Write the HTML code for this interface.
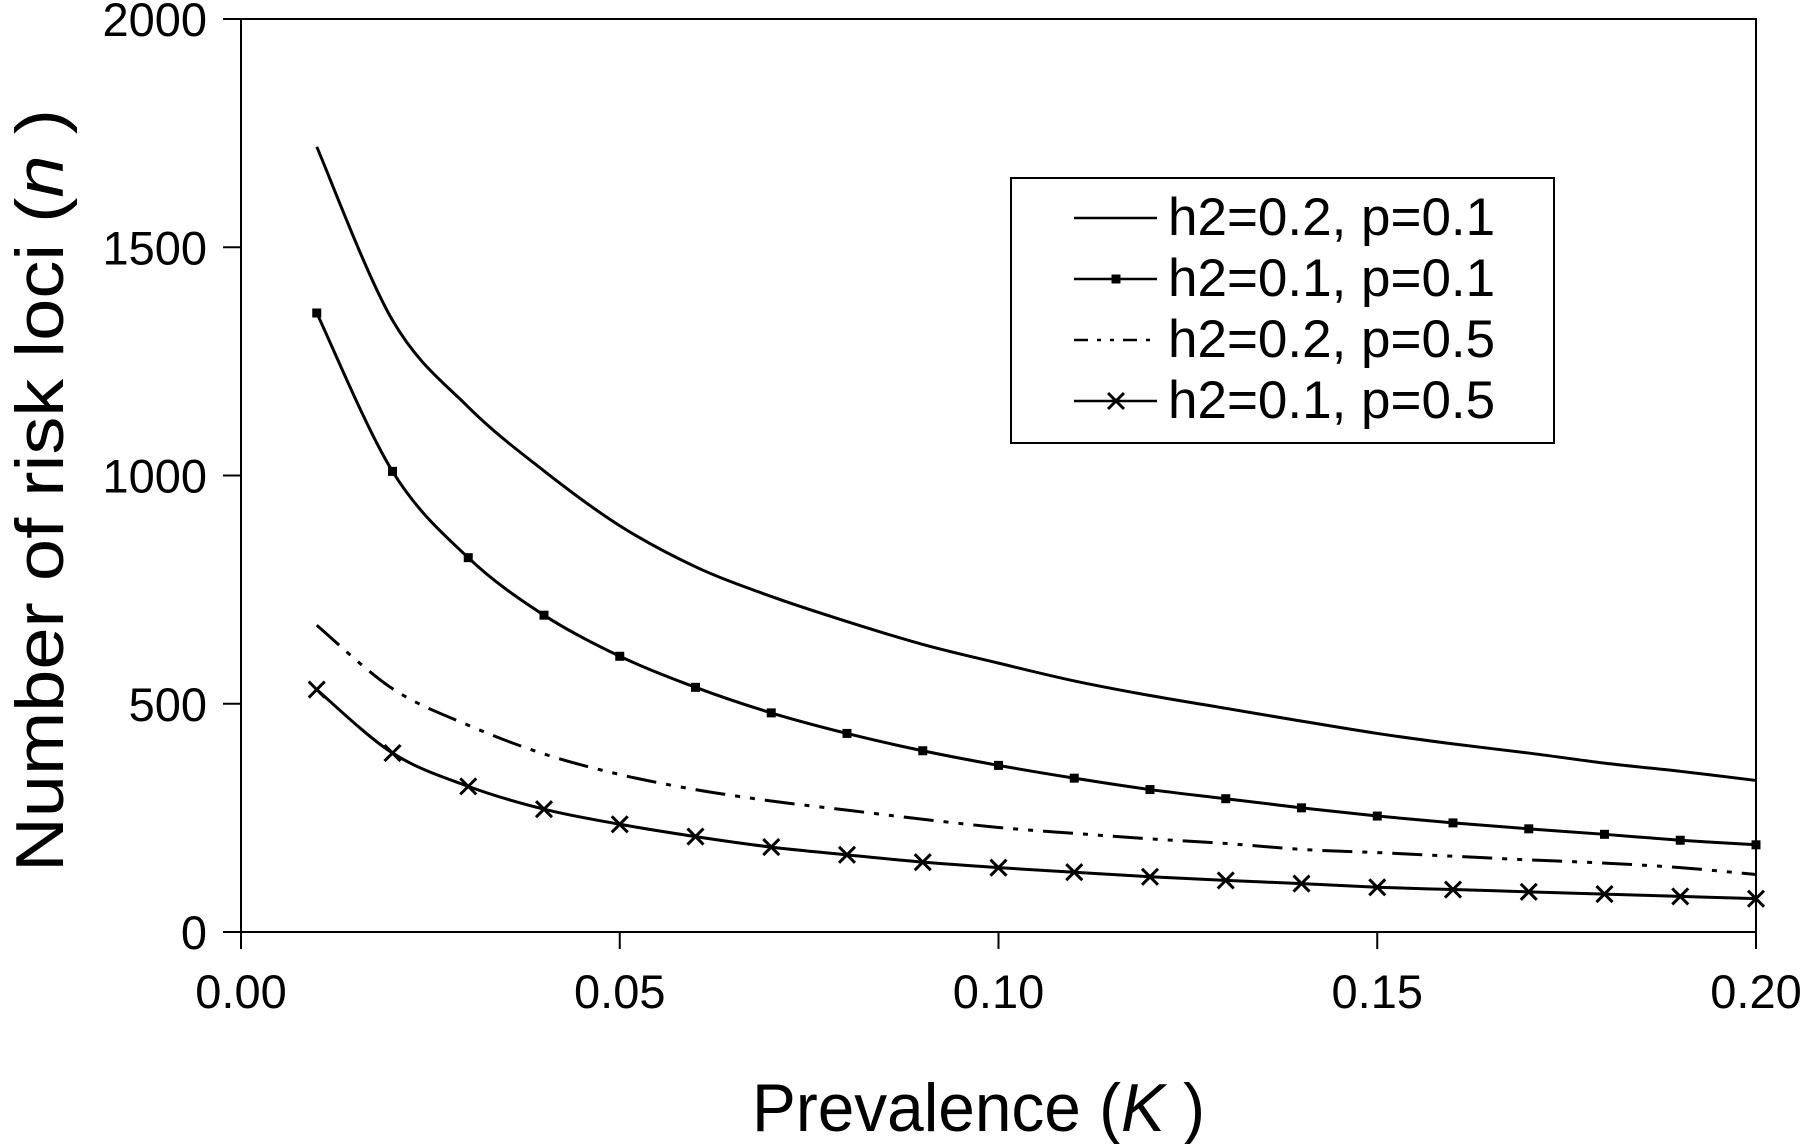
<!DOCTYPE html>
<html><head><meta charset="utf-8"><style>
html,body{margin:0;padding:0;background:#fff;}
svg{display:block;font-family:"Liberation Sans",Arial,sans-serif;}
</style></head><body>
<svg id="chart" width="1800" height="1144" viewBox="0 0 1800 1144" xmlns="http://www.w3.org/2000/svg">
<rect x="0" y="0" width="1800" height="1144" fill="#fff"/>
<g id="axes"></g>
<g id="series"></g>
<g id="legend">
  <rect x="1011" y="178" width="543" height="265" fill="#fff" stroke="#000" stroke-width="2"/>
</g>
<text x="752" y="1131" font-size="68" textLength="453" lengthAdjust="spacingAndGlyphs">Prevalence (<tspan font-style="italic">K</tspan> )</text>
<text transform="translate(63,872) rotate(-90)" font-size="68" textLength="763" lengthAdjust="spacingAndGlyphs">Number of risk loci (<tspan font-style="italic">n</tspan> )</text>
</svg>
<script>
const categories = [0.01,0.02,0.03,0.04,0.05,0.06,0.07,0.08,0.09,0.10,0.11,0.12,0.13,0.14,0.15,0.16,0.17,0.18,0.19,0.20];
const seriesH02P01 = [1720,1340,1150,1010,890,800,735,680,630,589,550,518,490,462,435,412,392,370,352,332];
const seriesH01P01 = [1356,1009,820,694,604,536,480,435,397,365,337,312,292,272,254,239,226,214,201,191];
const seriesH02P05 = [672,533,453,390,345,312,287,267,247,229,216,204,194,181,174,166,158,151,141,126];
const seriesH01P05 = [531,392,319,269,236,209,186,169,153,141,131,121,113,106,98,93,88,83,78,73];
const xTicks = [0,0.05,0.10,0.15,0.20];
const xTickLabels = ["0.00","0.05","0.10","0.15","0.20"];
const yTicks = [0,500,1000,1500,2000];
const yTickLabels = ["0","500","1000","1500","2000"];
const legendLabels = ["h2=0.2, p=0.1","h2=0.1, p=0.1","h2=0.2, p=0.5","h2=0.1, p=0.5"];

const NS="http://www.w3.org/2000/svg";
const L=241,R=1756,T=19,B=932;
function xs(v){return L+(v-0)/(0.2-0)*(R-L);}
function ys(v){return B-(v-0)/(2000-0)*(B-T);}
function mk(tag,attrs,parent){const e=document.createElementNS(NS,tag);for(const k in attrs)e.setAttribute(k,attrs[k]);parent.appendChild(e);return e;}
const axes=document.getElementById('axes');
const frame=mk('rect',{x:L,y:T,width:R-L,height:B-T,fill:'none',stroke:'#000','stroke-width':2},axes);


yTicks.forEach((t,i)=>{
  const y=ys(t);
  const tk=mk('line',{x1:L-18,x2:L,y1:y,y2:y,stroke:'#000','stroke-width':2},axes);
  
  
  const tx=mk('text',{x:207,y:y+17,'font-size':47,'text-anchor':'end'},axes);
  tx.textContent=yTickLabels[i];
  
  
});
xTicks.forEach((t,i)=>{
  const x=xs(t);
  const tk=mk('line',{x1:x,x2:x,y1:B,y2:B+17,stroke:'#000','stroke-width':2},axes);
  
  
  const tx=mk('text',{x:x,y:1008,'font-size':47,'text-anchor':'middle'},axes);
  tx.textContent=xTickLabels[i];
  
  
});
function smoothPath(vals){
  const p=vals.map((v,i)=>[xs(categories[i]),ys(v)]);
  let d='M'+p[0][0]+','+p[0][1];
  for(let i=0;i<p.length-1;i++){
    const p0=p[i-1]||p[i],p1=p[i],p2=p[i+1],p3=p[i+2]||p2;
    const c1=[p1[0]+(p2[0]-p0[0])/6,p1[1]+(p2[1]-p0[1])/6];
    const c2=[p2[0]-(p3[0]-p1[0])/6,p2[1]-(p3[1]-p1[1])/6];
    d+=' C'+c1[0]+','+c1[1]+' '+c2[0]+','+c2[1]+' '+p2[0]+','+p2[1];
  }
  return d;
}
const sg=document.getElementById('series');
function drawSquare(x,y,parent){const r=mk('rect',{x:x-4.5,y:y-4.5,width:9,height:9,fill:'#000'},parent);
  
  }
function drawX(x,y,parent){const p=mk('path',{d:`M${x-8},${y-8}L${x+8},${y+8}M${x-8},${y+8}L${x+8},${y-8}`,stroke:'#000','stroke-width':3,fill:'none'},parent);
  
  }
const defs=[
 {vals:seriesH02P01,name:'line-h2-0.2-p-0.1',dash:null,marker:null},
 {vals:seriesH01P01,name:'line-h2-0.1-p-0.1',dash:null,marker:'square'},
 {vals:seriesH02P05,name:'line-h2-0.2-p-0.5',dash:'30,10,5,10,5,10',marker:null},
 {vals:seriesH01P05,name:'line-h2-0.1-p-0.5',dash:null,marker:'x'}
];
defs.forEach(s=>{
  const path=mk('path',{d:smoothPath(s.vals),fill:'none',stroke:'#000','stroke-width':3},sg);
  if(s.dash)path.setAttribute('stroke-dasharray',s.dash);
  
  
  if(s.marker){
    s.vals.forEach((v,i)=>{
      const x=xs(categories[i]),y=ys(v);
      if(s.marker==='square')drawSquare(x,y,sg);else drawX(x,y,sg);
    });
  }
});
const lg=document.getElementById('legend');
const rowY=[235,296,357,418];
defs.forEach((s,i)=>{
  const cy=rowY[i]-17;
  const ln=mk('line',{x1:1074,x2:1157,y1:cy,y2:cy,stroke:'#000','stroke-width':2.5},lg);
  if(s.dash)ln.setAttribute('stroke-dasharray','14,9,4,9,4,9');
  
  
  if(s.marker==='square')drawSquare(1116,cy,lg);
  if(s.marker==='x')drawX(1116,cy,lg);
  const t=mk('text',{x:1168,y:rowY[i],'font-size':53},lg);
  t.textContent=legendLabels[i];
  
  
});
</script>
</body></html>
